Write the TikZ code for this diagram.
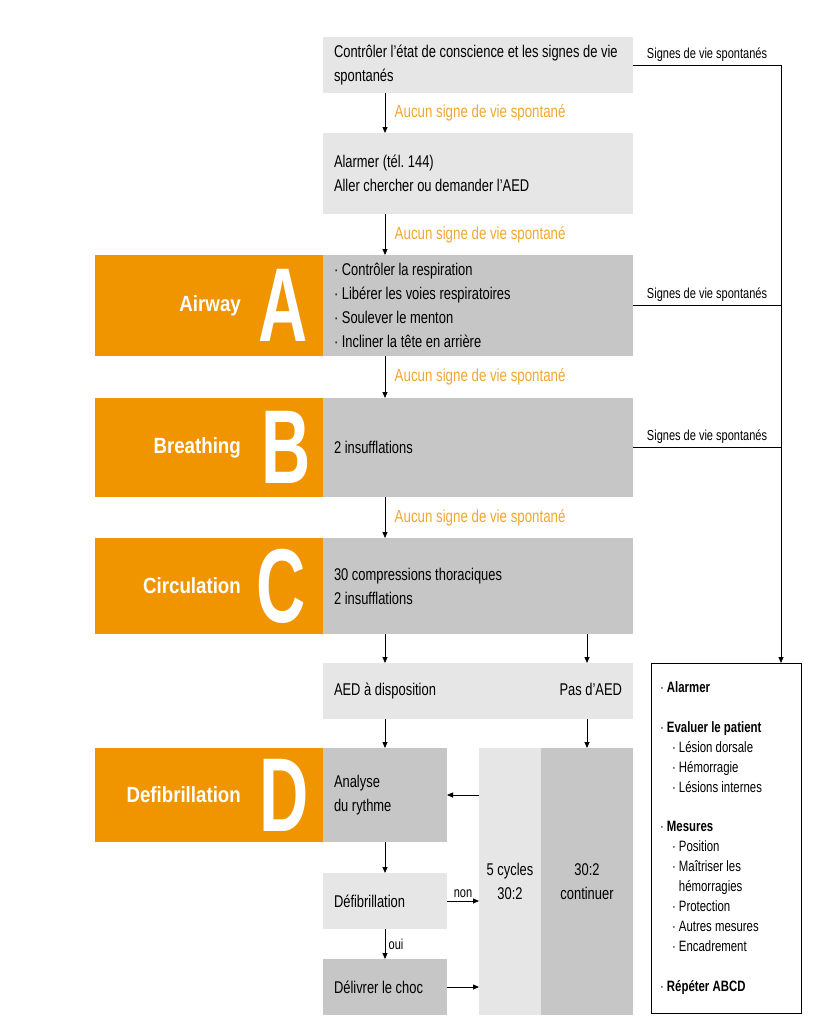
\documentclass[tikz,border=0pt]{standalone}
\usepackage{fontspec}
\setmainfont{Liberation Sans}[FakeStretch=0.76]
\newfontfamily\letterfont{Liberation Sans}[FakeStretch=0.65]
\newfontfamily\tagfont{Liberation Sans}[FakeStretch=0.85]
\usetikzlibrary{positioning,calc,arrows.meta}
\definecolor{flow}{RGB}{240,148,0}
\definecolor{note}{RGB}{242,166,51}
\definecolor{pale}{RGB}{230,230,230}
\definecolor{mid}{RGB}{198,198,198}
\tikzset{
  box/.style={rectangle, outer sep=0pt, inner xsep=11pt, inner ysep=0pt, align=flush left, font=\fontsize{17}{24}\selectfont\frenchspacing},
  palebox/.style={box, fill=pale},
  midbox/.style={box, fill=mid},
  tagbox/.style={rectangle, fill=flow, outer sep=0pt, minimum width=228pt},
  bigletter/.style={inner sep=0pt, text=white, font=\letterfont\bfseries\fontsize{105}{105}\selectfont},
  taglabel/.style={inner sep=0pt, anchor=east, text=white, font=\tagfont\bfseries\fontsize{22}{26}\selectfont},
  arr/.style={-{Triangle[length=6pt,width=5pt]}, line width=0.8pt},
  nosign/.style={text=note, font=\fontsize{17.5}{20}\selectfont},
  sign/.style={font=\fontsize{14.5}{16}\selectfont},
}
\begin{document}
\begin{tikzpicture}[x=1pt, y=-1pt]
    \useasboundingbox (0,0) rectangle (830,1028);
    % main column
    \node[palebox, text width=288pt, minimum height=56pt] (check) at (478,65) {Contrôler l’état de conscience et les signes de vie spontanés};
    \node[palebox, text width=288pt, minimum height=81pt, below=40pt of check] (alarm) {Alarmer (tél. 144)\\Aller chercher ou demander l’AED};
    \node[midbox, text width=288pt, minimum height=101pt, below=41pt of alarm] (airway) {· Contrôler la respiration\\· Libérer les voies respiratoires\\· Soulever le menton\\· Incliner la tête en arrière};
    \node[midbox, text width=288pt, minimum height=99pt, below=42pt of airway] (breath) {2 insufflations};
    \node[midbox, text width=288pt, minimum height=96pt, below=41pt of breath] (circ) {30 compressions thoraciques\\2 insufflations};
    \node[palebox, text width=288pt, minimum height=56pt, below=29pt of circ] (aed) {AED à disposition\hfill Pas d’AED};
    % defibrillation part
    \node[midbox, text width=102pt, minimum height=94pt, below right=29pt and 0pt of aed.south west] (anal) {Analyse\\du rythme};
    \node[palebox, text width=102pt, minimum height=56pt, below=31pt of anal] (defib) {Défibrillation};
    \node[midbox, text width=102pt, minimum height=56pt, below=30pt of defib] (shock) {Délivrer le choc};
    \node[palebox, align=center, inner xsep=0pt, minimum width=62pt, minimum height=267pt, below right=29pt and 156pt of aed.south west] (cycles) {5 cycles\\30:2};
    \node[midbox, align=center, inner xsep=0pt, minimum width=92pt, minimum height=267pt, right=0pt of cycles] (cont) {30:2\\continuer};
    % orange tags
    \node[tagbox, minimum height=101pt, left=0pt of airway] (tagA) {};
    \node[tagbox, minimum height=99pt, left=0pt of breath] (tagB) {};
    \node[tagbox, minimum height=96pt, left=0pt of circ] (tagC) {};
    \node[tagbox, minimum height=94pt, left=0pt of anal] (tagD) {};
    \node[bigletter, anchor=east] (letA) at ([xshift=-15pt]tagA.east) {A};
    \node[bigletter, anchor=east] (letB) at ([xshift=-12pt]tagB.east) {B};
    \node[bigletter, anchor=east] (letC) at ([xshift=-17pt]tagC.east) {C};
    \node[bigletter, anchor=east] (letD) at ([xshift=-14pt]tagD.east) {D};
    \node[taglabel] at ([xshift=146pt]tagA.west) {Airway};
    \node[taglabel] at ([xshift=146pt]tagB.west) {Breathing};
    \node[taglabel] at ([xshift=146pt]tagC.west) {Circulation};
    \node[taglabel] at ([xshift=146pt]tagD.west) {Defibrillation};
    % care box
    \node[draw, line width=0.8pt, rectangle, outer sep=0pt, inner xsep=9pt, align=flush left, text width=132pt, minimum height=350pt,
          font=\fontsize{15}{20}\selectfont, below right=0pt and 18pt of aed.north east] (care)
        {· \textbf{Alarmer}\\[20pt]
         · \textbf{Evaluer le patient}\\
         \hspace*{12pt}· Lésion dorsale\\
         \hspace*{12pt}· Hémorragie\\
         \hspace*{12pt}· Lésions internes\\[19pt]
         · \textbf{Mesures}\\
         \hspace*{12pt}· Position\\
         \hspace*{12pt}· Maîtriser les\\
         \hspace*{12pt}\phantom{· }hémorragies\\
         \hspace*{12pt}· Protection\\
         \hspace*{12pt}· Autres mesures\\
         \hspace*{12pt}· Encadrement\\[20pt]
         · \textbf{Répéter ABCD}};
    \coordinate (rail) at ([xshift=55pt]care.north);
    % arrows down
    \draw[arr] (check.south -| anal) -- (alarm.north -| anal) node[midway, right=6pt, nosign] {Aucun signe de vie spontané};
    \draw[arr] (alarm.south -| anal) -- (airway.north -| anal) node[midway, right=6pt, nosign] {Aucun signe de vie spontané};
    \draw[arr] (airway.south -| anal) -- (breath.north -| anal) node[midway, right=6pt, nosign] {Aucun signe de vie spontané};
    \draw[arr] (breath.south -| anal) -- (circ.north -| anal) node[midway, right=6pt, nosign] {Aucun signe de vie spontané};
    \draw[arr] (circ.south -| anal) -- (aed.north -| anal);
    \draw[arr] (circ.south -| cont) -- (aed.north -| cont);
    \draw[arr] (aed.south -| anal) -- (anal.north);
    \draw[arr] (aed.south -| cont) -- (cont.north);
    \draw[arr] (cycles.west |- anal.east) -- (anal.east);
    \draw[arr] (anal.south) -- (defib.north);
    \draw[arr] (defib.east) -- (defib.east -| cycles.west) node[midway, above, sign] {non};
    \draw[arr] (defib.south) -- (shock.north) node[midway, right, sign] {oui};
    \draw[arr] (shock.east) -- (shock.east -| cycles.west);
    % signs of life
    \draw[line width=0.8pt] (check.east) -- (check.east -| rail) node[midway, above, sign] {Signes de vie spontanés};
    \draw[line width=0.8pt] (airway.east) -- (airway.east -| rail) node[midway, above, sign] {Signes de vie spontanés};
    \draw[line width=0.8pt] (breath.east) -- (breath.east -| rail) node[midway, above, sign] {Signes de vie spontanés};
    \draw[arr] (check.east -| rail) -- (rail);
\end{tikzpicture}
\end{document}
